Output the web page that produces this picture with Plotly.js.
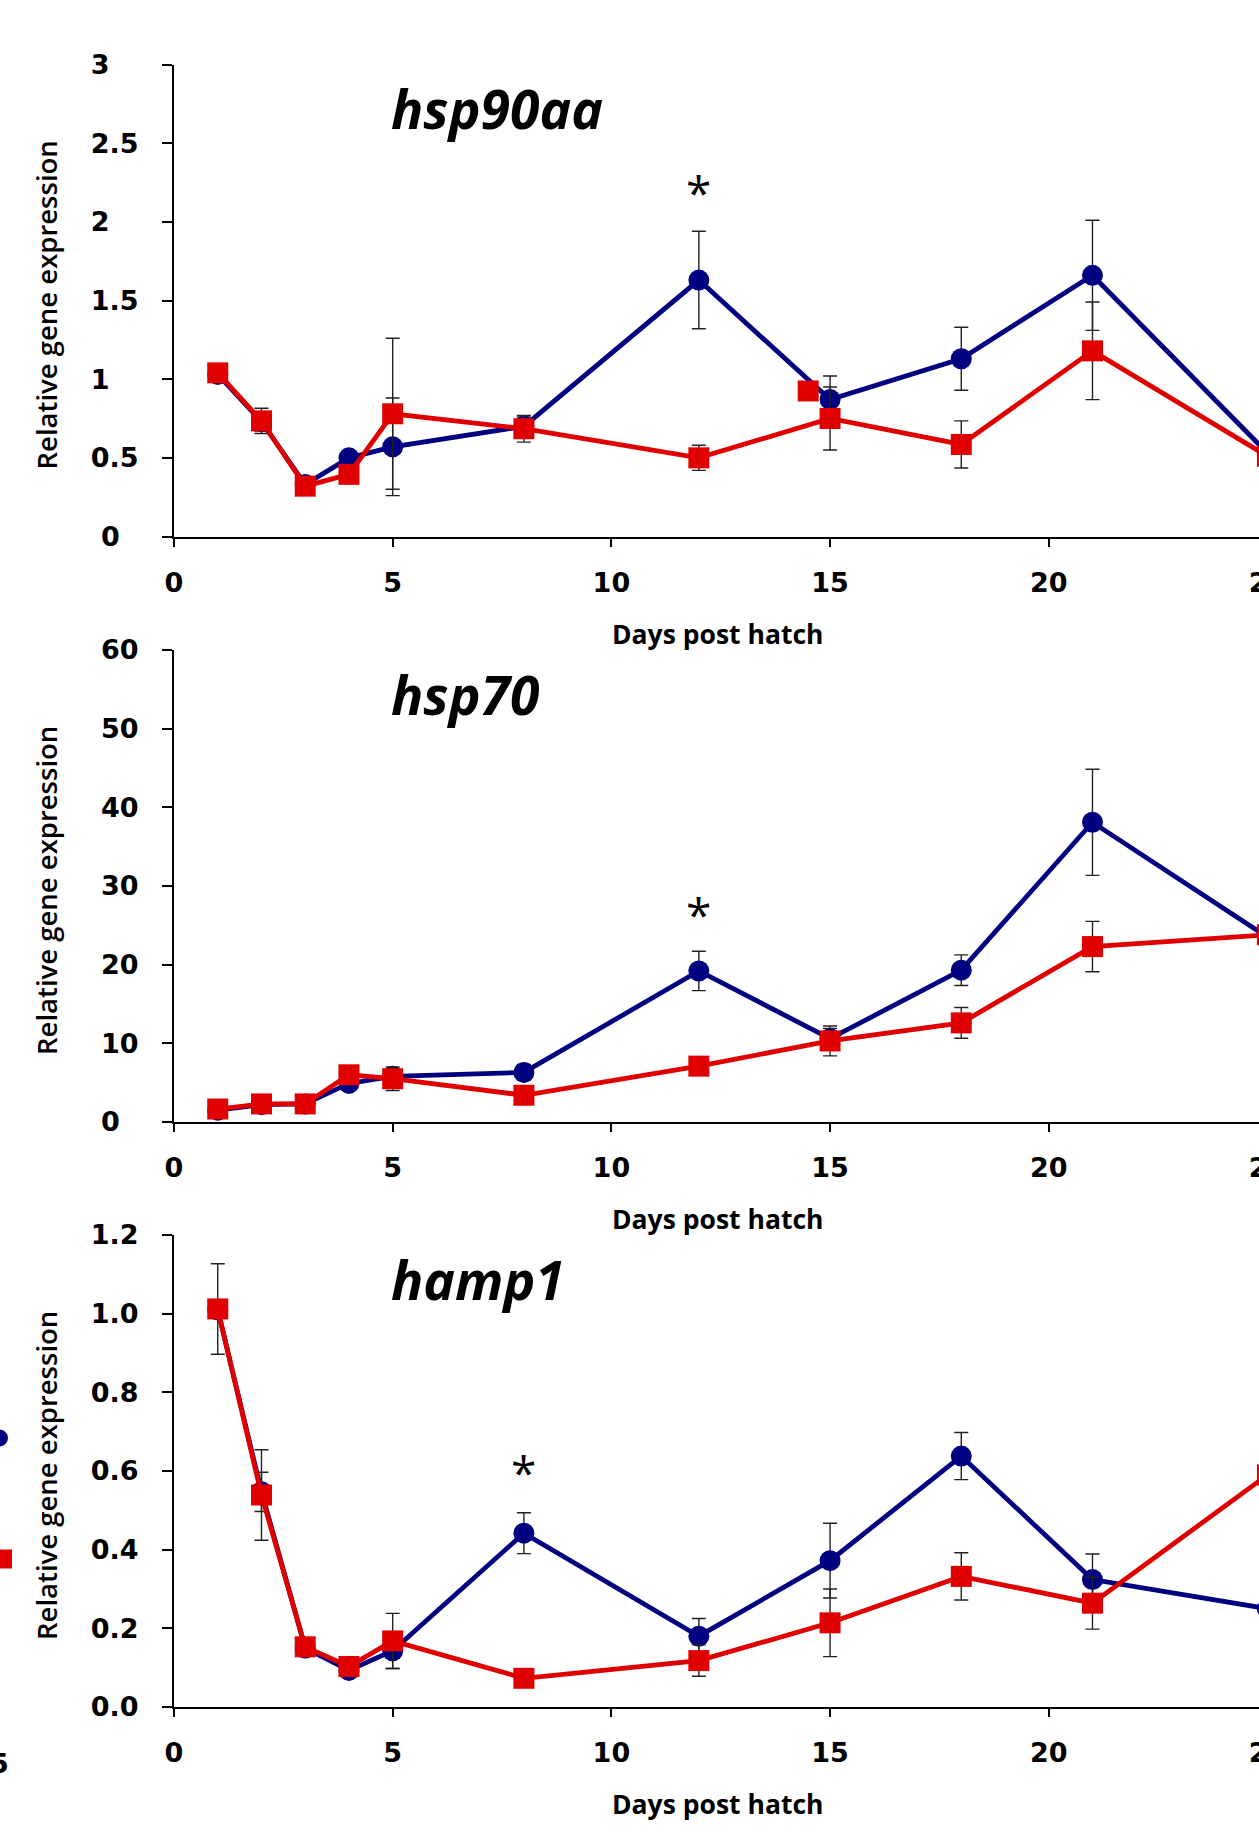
<!DOCTYPE html>
<html>
<head>
<meta charset="utf-8">
<script src="https://cdn.plot.ly/plotly-3.0.1.min.js"></script>
<style>
html, body { margin: 0; padding: 0; overflow: hidden; background: #fff; }
#chart { width: 1300px; height: 1832px; }
</style>
</head>
<body>
<div id="chart"></div>
<script>
// ---------------- data ----------------
const days = [1, 2, 3, 4, 5, 8, 12, 15, 18, 21, 25];
const geneNames = ["hsp90aa", "hsp70", "hamp1"];

// hsp90aa
const hsp90aaBlue    = [1.03, 0.73, 0.33, 0.50, 0.57, 0.70, 1.63, 0.87, 1.13, 1.66, 0.53];
const hsp90aaBlueErr = [0.02, 0.06, 0.03, 0.04, 0.31, 0.06, 0.31, 0.15, 0.20, 0.35, 0.10];
const hsp90aaRed     = [1.04, 0.735, 0.32, 0.395, 0.78, 0.685, 0.50, 0.75, 0.585, 1.18, 0.51];
const hsp90aaRedErr  = [0.02, 0.08, 0.03, 0.03, 0.48, 0.085, 0.08, 0.20, 0.15, 0.31, 0.10];
const hsp90aaExtraDay = [14.5];
const hsp90aaExtraVal = [0.925];

// hsp70
const hsp70Blue    = [1.5, 2.2, 2.3, 4.9, 5.8, 6.3, 19.2, 10.6, 19.3, 38.1, 23.5];
const hsp70BlueErr = [0.2, 0.3, 0.3, 0.5, 0.5, 1.0, 2.5, 1.3, 1.95, 6.75, 3.6];
const hsp70Red     = [1.65, 2.3, 2.3, 6.0, 5.5, 3.4, 7.1, 10.3, 12.6, 22.3, 23.8];
const hsp70RedErr  = [0.2, 0.2, 0.2, 0.4, 1.5, 0.4, 0.8, 1.9, 1.95, 3.2, 3.6];

// hamp1
const hamp1Blue    = [1.01, 0.547, 0.15, 0.093, 0.143, 0.442, 0.18, 0.372, 0.638, 0.324, 0.25];
const hamp1BlueErr = [0.02, 0.05, 0.01, 0.01, 0.045, 0.052, 0.045, 0.095, 0.06, 0.065, 0.05];
const hamp1Red     = [1.012, 0.539, 0.153, 0.103, 0.168, 0.073, 0.118, 0.214, 0.332, 0.264, 0.59];
const hamp1RedErr  = [0.115, 0.115, 0.01, 0.01, 0.07, 0.01, 0.04, 0.086, 0.06, 0.066, 0.06];

// significance stars: day and height (data units) per panel
const starDays = [12, 12, 8];
const starVals = [2.19, 26.4, 0.597];

// y tick values and labels per panel
const hsp90aaTicks = [0, 0.5, 1, 1.5, 2, 2.5, 3];
const hsp90aaTickText = ["0", "0.5", "1", "1.5", "2", "2.5", "3"];
const hsp70Ticks = [0, 10, 20, 30, 40, 50, 60];
const hsp70TickText = ["0", "10", "20", "30", "40", "50", "60"];
const hamp1Ticks = [0, 0.2, 0.4, 0.6, 0.8, 1.0, 1.2];
const hamp1TickText = ["0.0", "0.2", "0.4", "0.6", "0.8", "1.0", "1.2"];
const xTicks = [0, 5, 10, 15, 20, 25];

const yRanges = [[0, 3], [0, 60], [0, 1.2]];

// ---------------- styling ----------------
const BLUE = "#000080";
const RED = "#e00000";
const H = 1832;
const panelTopPx = [64.5, 650, 1235];
const panelBotPx = [536.5, 1122, 1707];

const blueSets = [[hsp90aaBlue, hsp90aaBlueErr], [hsp70Blue, hsp70BlueErr], [hamp1Blue, hamp1BlueErr]];
const redSets  = [[hsp90aaRed, hsp90aaRedErr], [hsp70Red, hsp70RedErr], [hamp1Red, hamp1RedErr]];
const tickSets = [[hsp90aaTicks, hsp90aaTickText], [hsp70Ticks, hsp70TickText], [hamp1Ticks, hamp1TickText]];

// the original labels line up on their left side: pad short labels on the right
// with figure spaces (digit width) and punctuation spaces (period width)
function padLabel(s, ref) {
  const digits = (t) => (t.match(/[0-9]/g) || []).length;
  const dots = (t) => (t.match(/\./g) || []).length;
  let extraDigits = digits(ref) - digits(s);
  let extraDots = dots(ref) - dots(s);
  if (s === "0" && ref.length > 1) { extraDigits = 1; extraDots = 0; }
  return s + "\u2008".repeat(Math.max(0, extraDots)) + "\u2007".repeat(Math.max(0, extraDigits));
}

const traces = [];
const layout = {
  width: 1300, height: H,
  margin: {l: 174, r: 12, t: 0, b: 0, pad: 0},
  paper_bgcolor: "#fff", plot_bgcolor: "#fff",
  showlegend: false,
  annotations: [],
  shapes: []
};

const tickFont = {family: "DejaVu Sans", size: 27, color: "#000", weight: 700};

for (let i = 0; i < 3; i++) {
  const sfx = i === 0 ? "" : String(i + 1);
  const xa = "x" + sfx, ya = "y" + sfx;
  const errStyle = (arr) => ({type: "data", array: arr, visible: true, color: "#222", thickness: 1.4, width: 7});
  traces.push({
    x: days, y: blueSets[i][0], error_y: errStyle(blueSets[i][1]),
    xaxis: xa, yaxis: ya, type: "scatter", mode: "lines+markers", name: "Group 1",
    line: {color: BLUE, width: 4.8},
    marker: {symbol: "circle", size: 21, color: BLUE}
  });
  traces.push({
    x: days, y: redSets[i][0], error_y: errStyle(redSets[i][1]),
    xaxis: xa, yaxis: ya, type: "scatter", mode: "lines+markers", name: "Group 2",
    line: {color: RED, width: 4.8},
    marker: {symbol: "square", size: 21, color: RED}
  });
  if (i === 0) {
    traces.push({
      x: hsp90aaExtraDay, y: hsp90aaExtraVal, xaxis: xa, yaxis: ya,
      type: "scatter", mode: "markers", name: "Group 2",
      marker: {symbol: "square", size: 21, color: RED}
    });
  }

  const vals = tickSets[i][0];
  const labels = tickSets[i][1];
  const longest = labels.reduce((a, b) => (b.length > a.length ? b : a), "");
  const padded = labels.map((s) => padLabel(s, longest));

  const dom = [1 - panelBotPx[i] / H, 1 - panelTopPx[i] / H];
  layout["xaxis" + sfx] = {
    domain: [0, 1], anchor: ya, range: [0, 25.47],
    tickmode: "array", tickvals: xTicks, ticktext: xTicks.map(String),
    ticks: "outside", ticklen: 8, tickwidth: 2, tickcolor: "#000",
    showline: true, linecolor: "#000", linewidth: 2, showgrid: false, zeroline: false,
    tickfont: tickFont, ticklabelstandoff: 13, fixedrange: true
  };
  layout["yaxis" + sfx] = {
    domain: dom, anchor: xa, range: yRanges[i],
    tickmode: "array", tickvals: vals, ticktext: padded,
    ticks: "outside", ticklen: 10, tickwidth: 2, tickcolor: "#000",
    showline: true, linecolor: "#000", linewidth: 2, showgrid: false, zeroline: false,
    tickfont: tickFont, ticklabelstandoff: 18, fixedrange: true
  };

  const yd = ya + " domain";
  // y axis title
  layout.annotations.push({
    xref: "paper", x: 0, xshift: -128, xanchor: "center",
    yref: yd, y: 0.5, yshift: -5, yanchor: "middle",
    text: "Relative gene expression", textangle: -90, showarrow: false,
    font: {family: "Open Sans", size: 27.5, color: "#000", weight: 600}
  });
  // x axis title
  layout.annotations.push({
    xref: "paper", x: 0, xshift: 543, xanchor: "center",
    yref: yd, y: 0, yshift: -97, yanchor: "middle",
    text: "Days post hatch", showarrow: false,
    font: {family: "Open Sans", size: 26.5, color: "#000", weight: 700}
  });
  // gene name
  layout.annotations.push({
    xref: "paper", x: 0, xshift: 215, xanchor: "left",
    yref: yd, y: 1, yshift: -44, yanchor: "middle",
    text: "<b><i>" + geneNames[i] + "</i></b>", showarrow: false,
    font: {family: "Open Sans", size: 53.5, color: "#000"}
  });
  // significance star
  layout.annotations.push({
    xref: xa, x: starDays[i], yref: ya, y: starVals[i],
    xanchor: "center", yanchor: "middle",
    text: "*", showarrow: false,
    font: {family: "Open Sans", size: 46, color: "#000"}
  });
}

// remnants of the neighbouring (cropped) figure at the left edge
layout.shapes.push({
  type: "circle", xref: "paper", yref: "paper", xsizemode: "pixel", ysizemode: "pixel",
  xanchor: 0, yanchor: 1 - 1438 / H, x0: -183, x1: -166, y0: -8.5, y1: 8.5,
  fillcolor: BLUE, line: {width: 0}
});
layout.shapes.push({
  type: "rect", xref: "paper", yref: "paper", xsizemode: "pixel", ysizemode: "pixel",
  xanchor: 0, yanchor: 1 - 1559 / H, x0: -181, x1: -162, y0: -9.5, y1: 9.5,
  fillcolor: RED, line: {width: 0}
});
layout.annotations.push({
  xref: "paper", x: 0, xshift: -175, xanchor: "center",
  yref: "paper", y: 1 - 1763 / H, yanchor: "middle",
  text: "5", showarrow: false, font: tickFont
});

Plotly.newPlot("chart", traces, layout, {displayModeBar: false, staticPlot: true});
</script>
</body>
</html>
